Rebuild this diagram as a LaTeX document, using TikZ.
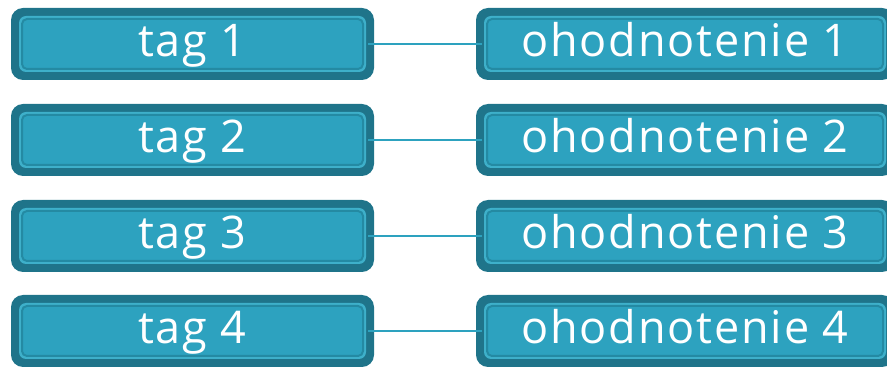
\documentclass[tikz,border=0pt]{standalone}
\usepackage{fontspec}
\setmainfont{Open Sans}[LetterSpace=4]
\definecolor{bandc}{RGB}{31,116,138}
\definecolor{glowc}{RGB}{62,176,202}
\definecolor{edgec}{RGB}{36,138,163}
\definecolor{mainc}{RGB}{45,162,191}
\tikzset{
  pill/.style={
    rounded corners=12pt, fill=bandc, inner sep=0pt, text=white,
    font=\fontsize{45}{50}\selectfont, minimum height=72pt,
    text height=26pt, text depth=0pt,
    path picture={
      \fill[glowc, rounded corners=7pt]
        ([shift={(8pt,-8pt)}]path picture bounding box.north west) rectangle
        ([shift={(-8pt,8pt)}]path picture bounding box.south east);
      \draw[fill=mainc, draw=edgec, line width=2pt, rounded corners=5pt]
        ([shift={(11pt,-11pt)}]path picture bounding box.north west) rectangle
        ([shift={(-11pt,11pt)}]path picture bounding box.south east);
    }},
  tagbox/.style={pill, minimum width=363pt},
  scorebox/.style={pill, minimum width=418pt},
  link/.style={draw=mainc, line width=2pt, shorten <=-6pt, shorten >=-6pt}
}
\begin{document}
\begin{tikzpicture}[x=1pt,y=1pt]
  \useasboundingbox (0,0) rectangle (887,367);
  \foreach \i/\yc in {1/323, 2/227, 3/131, 4/36} {
    \node[tagbox] (tag\i) at (192.5,\yc) {tag \i};
    \node[scorebox] (score\i) at (685,\yc) {ohodnotenie \i};
    \draw[link] (tag\i.east) -- (score\i.west);
  }
\end{tikzpicture}
\end{document}
